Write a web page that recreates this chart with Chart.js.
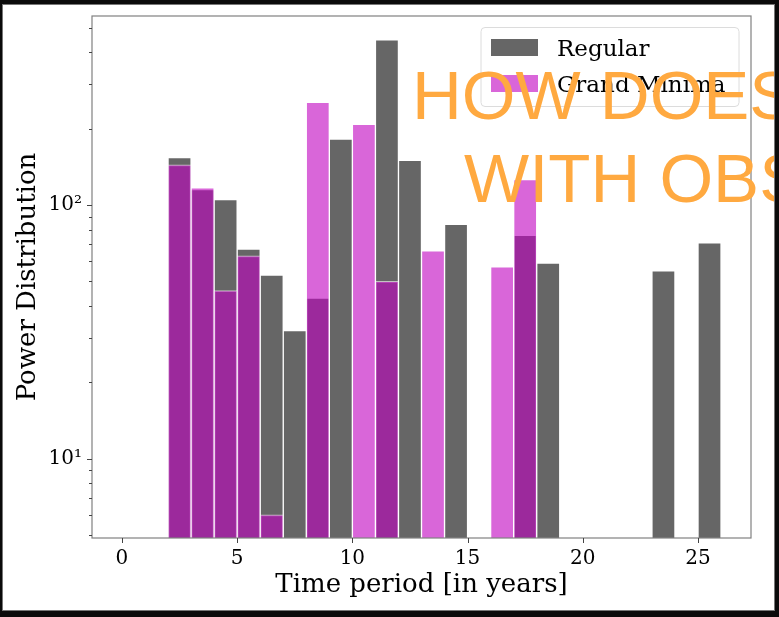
<!DOCTYPE html>
<html>
<head>
<meta charset="utf-8">
<title>Power Distribution</title>
<script src="https://cdn.jsdelivr.net/npm/chart.js@4.4.0/dist/chart.umd.min.js"></script>
<style>
  html, body { margin: 0; padding: 0; background: #000; }
  #wrap { position: relative; width: 779px; height: 617px; overflow: hidden; background: #fff; }
  #chart { position: absolute; left: 0; top: 0; }
  .stamp {
    position: absolute;
    font-family: 'Liberation Sans', Arial, sans-serif;
    font-size: 69px;
    line-height: 1;
    color: #ffa940;
    white-space: nowrap;
  }
  #frame {
    position: absolute; left: 0; top: 0; right: 0; bottom: 0;
    border-style: solid; border-color: #0b0b0b;
    border-width: 4px 4px 6px 2px;
    box-shadow: inset 0 0 0 1px #777;
    pointer-events: none;
  }
</style>
</head>
<body>
<div id="wrap">
  <canvas id="chart" width="779" height="617"></canvas>
  <div class="stamp" style="left:412px; top:61px;">HOW DOES</div>
  <div class="stamp" style="left:464px; top:144px;">WITH OBS</div>
  <div id="frame"></div>
</div>
<script>
// histogram bins (left edge, width 1 year)
const binLefts = [2, 3, 4, 5, 6, 7, 8, 9, 10, 11, 12, 13, 14, 15, 16, 17, 18, 19, 20, 21, 22, 23, 24, 25];
const regularCounts = [154, 115, 105, 67, 53, 32, 43, 182, null, 449, 150, null, 84, null, null, 76, 59, null, null, null, null, 55, null, 71];
const grandMinimaCounts = [144, 117, 46, 63, 6, null, 254, null, 208, 50, null, 66, null, null, 57, 126, null, null, null, null, null, null, null, null];

// axes
const xTicks = [0, 5, 10, 15, 20, 25];
const xMin = -1.3, xMax = 27.3;
const yMajorTicks = [10, 100];
const yMinorTicks = [5, 6, 7, 8, 9, 20, 30, 40, 50, 60, 70, 80, 90, 200, 300, 400, 500];
const yMin = 4.86, yMax = 557;

const serif = "'DejaVu Serif', 'Liberation Serif', serif";

function toBars(counts) {
    return binLefts.map((left, i) => ({ x: left + 0.5, y: counts[i] }));
}

// spines, tick marks and the legend box (matplotlib style)
const axesDecor = {
    id: 'axesDecor',
    afterDatasetsDraw(chart) {
        const { ctx, chartArea: a, scales: { x, y } } = chart;
        ctx.save();

        ctx.strokeStyle = '#808080';
        ctx.lineWidth = 1.2;
        ctx.strokeRect(a.left, a.top, a.right - a.left, a.bottom - a.top);

        ctx.strokeStyle = '#444';
        ctx.lineWidth = 1;
        ctx.beginPath();
        xTicks.forEach(v => {
            const px = Math.round(x.getPixelForValue(v)) + 0.5;
            ctx.moveTo(px, a.bottom);
            ctx.lineTo(px, a.bottom + 5);
        });
        yMajorTicks.forEach(v => {
            const py = Math.round(y.getPixelForValue(v)) + 0.5;
            ctx.moveTo(a.left, py);
            ctx.lineTo(a.left - 5, py);
        });
        yMinorTicks.forEach(v => {
            const py = Math.round(y.getPixelForValue(v)) + 0.5;
            ctx.moveTo(a.left, py);
            ctx.lineTo(a.left - 3, py);
        });
        ctx.stroke();

        // legend
        const bx = 481, by = 27.5, bw = 258, bh = 79;
        ctx.beginPath();
        ctx.roundRect(bx, by, bw, bh, 4);
        ctx.fillStyle = 'rgba(255,255,255,0.8)';
        ctx.fill();
        ctx.strokeStyle = '#dcdcdc';
        ctx.stroke();

        ctx.font = '23px ' + serif;
        ctx.textBaseline = 'alphabetic';
        chart.data.datasets.forEach((ds, i) => {
            const rowTop = 39 + i * 36;
            ctx.fillStyle = ds.backgroundColor;
            ctx.fillRect(491, rowTop, 47, 17);
            ctx.fillStyle = '#000';
            ctx.fillText(ds.label, 557, rowTop + 16.5);
        });

        ctx.restore();
    }
};

document.addEventListener('DOMContentLoaded', function() {
    const ctx = document.getElementById('chart').getContext('2d');
    new Chart(ctx, {
        type: 'bar',
        data: {
            datasets: [{
                label: 'Regular',
                data: toBars(regularCounts),
                backgroundColor: 'rgba(0,0,0,0.6)',
                borderColor: 'rgba(255,255,255,0.6)',
                borderWidth: 1,
                grouped: false,
                barPercentage: 1,
                categoryPercentage: 1,
                order: 2
            }, {
                label: 'Grand Minima',
                data: toBars(grandMinimaCounts),
                backgroundColor: 'rgba(191,0,191,0.6)',
                borderColor: 'rgba(255,255,255,0.6)',
                borderWidth: 1,
                grouped: false,
                barPercentage: 1,
                categoryPercentage: 1,
                order: 1
            }]
        },
        options: {
            responsive: false,
            animation: false,
            layout: { padding: { left: 0, top: 16, right: 28, bottom: 0 } },
            plugins: {
                legend: { display: false },
                tooltip: { enabled: false }
            },
            scales: {
                x: {
                    type: 'linear',
                    min: xMin,
                    max: xMax,
                    offset: false,
                    afterFit(s) {
                        s.height = 79;
                        s.paddingLeft = 0;
                        s.paddingRight = 0;
                    },
                    afterBuildTicks(s) { s.ticks = xTicks.map(v => ({ value: v })); },
                    grid: { display: false, drawTicks: false },
                    border: { display: false },
                    ticks: {
                        autoSkip: false,
                        maxRotation: 0,
                        padding: 9,
                        color: '#000',
                        font: { family: serif, size: 20 }
                    },
                    title: {
                        display: true,
                        text: 'Time period [in years]',
                        color: '#000',
                        font: { family: serif, size: 26 },
                        padding: { top: 0, bottom: 16 }
                    }
                },
                y: {
                    type: 'logarithmic',
                    min: yMin,
                    max: yMax,
                    afterFit(s) {
                        s.width = 92;
                        s.paddingTop = 0;
                        s.paddingBottom = 0;
                    },
                    afterBuildTicks(s) { s.ticks = yMajorTicks.map(v => ({ value: v })); },
                    grid: { display: false, drawTicks: false },
                    border: { display: false },
                    ticks: {
                        autoSkip: false,
                        padding: 10,
                        color: '#000',
                        font: { family: serif, size: 20 },
                        callback: v => v === 10 ? '10\u00b9' : (v === 100 ? '10\u00b2' : '')
                    },
                    title: {
                        display: true,
                        text: 'Power Distribution',
                        color: '#000',
                        font: { family: serif, size: 26 },
                        padding: { top: 13, bottom: 0 }
                    }
                }
            }
        },
        plugins: [axesDecor]
    });
});
</script>
</body>
</html>
